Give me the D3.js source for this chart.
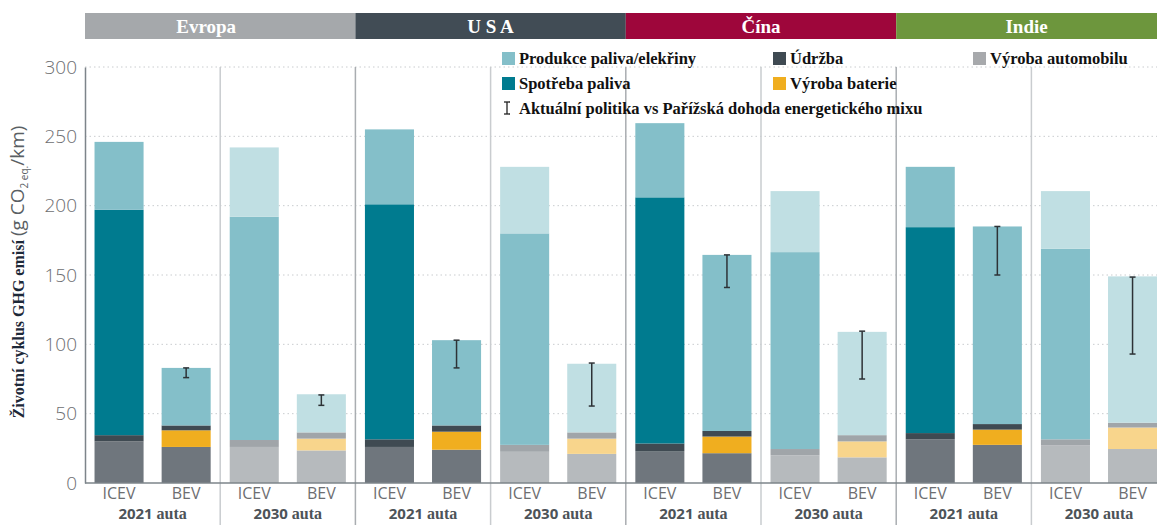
<!DOCTYPE html>
<html><head><meta charset="utf-8">
<script src="https://cdn.jsdelivr.net/npm/d3@7"></script>
<style>body{margin:0;background:#fff}svg{display:block}</style>
</head><body><svg id="c" width="1157" height="525"></svg>
<script>
// ---- data ----
const regions = ["Evropa", "U S A", "Čína", "Indie"];
const years = ["2021 auta", "2030 auta"];
const vehicles = ["ICEV", "BEV"];
const yTicks = [0, 50, 100, 150, 200, 250, 300];
const segmentKeys = ["car", "battery", "maintenance", "fuelUse", "production"];
const legendLabels = ["Produkce paliva/elekřiny", "Údržba", "Výroba automobilu", "Spotřeba paliva", "Výroba baterie"];
const errorLabel = "Aktuální politika vs Pařížská dohoda energetického mixu";
// order of bars: region -> year -> vehicle
const carValues         = [30, 26, 26, 23.5,  26, 24, 22.5, 21,  23, 21.5, 20, 18.5,  31.5, 27.5, 27, 24.5];
const batteryValues     = [0, 12, 0, 8.5,     0, 13, 0, 11,    0, 12, 0, 11.5,      0, 11, 0, 15.5];
const maintenanceValues = [4.5, 3.5, 5, 4.5,  5.5, 4.5, 5, 4.5, 5.5, 4, 4.5, 4.5,  4.5, 4, 4.5, 3.5];
const fuelUseValues     = [162.5, 0, 161, 0,  169.5, 0, 152.5, 0, 177.5, 0, 142, 0, 148.5, 0, 137.5, 0];
const productionValues  = [49, 41.5, 50, 27.5, 54, 61.5, 48, 49.5, 53.5, 127, 44, 74.5, 43.5, 142.5, 41.5, 105.5];
const errorLow          = [null, 76, null, 56, null, 83, null, 55.5, null, 141, null, 75, null, 150, null, 93];
const errorHigh         = [null, 83, null, 63.5, null, 103, null, 86.5, null, 164.5, null, 109.5, null, 185, null, 148.5];

// ---- styles ----
const regionColors = ["#a5a8ab", "#414c55", "#9e063b", "#6d963d"];
const colors2021 = {car: "#6f767d", battery: "#f0ae1f", maintenance: "#3f4a52", fuelUse: "#007b8f", production: "#84bfc9"};
const colors2030 = {car: "#b6babd", battery: "#f8d58c", maintenance: "#a0a5a9", fuelUse: "#84bfc9", production: "#c0dfe3"};
const legendColors = ["#84bfc9", "#3f4a52", "#a7a9ac", "#007b8f", "#f0ae1f"];
const serif = "'Liberation Serif', 'Times New Roman', serif";
const sans = "'Open Sans', Lato, sans-serif";

const svg = d3.select("#c");
const left = 85, groupW = 135.2;
const bars = [];
let i = 0;
regions.forEach((r, ri) => years.forEach((yr, yi) => vehicles.forEach(v => {
  bars.push({region: r, ri, year: yr, yi, vehicle: v, group: r + "|" + yr,
    car: carValues[i], battery: batteryValues[i], maintenance: maintenanceValues[i],
    fuelUse: fuelUseValues[i], production: productionValues[i], lo: errorLow[i], hi: errorHigh[i]});
  i++;
})));
const groups = [];
regions.forEach(r => years.forEach(yr => groups.push(r + "|" + yr)));

const xG = d3.scaleBand().domain(groups).range([left, left + groupW * groups.length]).padding(0);
const xV = d3.scaleBand().domain(vehicles).range([0, xG.bandwidth()]).paddingInner(0.269).paddingOuter(0.142);
const y = d3.scaleLinear().domain([0, 300]).range([483, 67]);

// header bands
const xR = d3.scaleBand().domain(regions).range([left, left + groupW * groups.length]).padding(0);
svg.append("g").selectAll("rect").data(regions).join("rect")
  .attr("x", d => xR(d)).attr("y", 13).attr("width", xR.bandwidth()).attr("height", 26)
  .attr("fill", (d, k) => regionColors[k]);
svg.append("g").selectAll("text").data(regions).join("text")
  .attr("x", d => Math.min(xR(d) + xR.bandwidth() / 2, (xR(d) + 1157) / 2) - (d === "Evropa" ? 14 : 0))
  .attr("y", 33).attr("text-anchor", "middle")
  .attr("fill", "#fff").attr("font-family", serif).attr("font-weight", "bold").attr("font-size", 19)
  .text(d => d);

// gridlines
svg.append("g").selectAll("line").data(yTicks.filter(t => t > 0)).join("line")
  .attr("x1", left).attr("x2", 1157).attr("y1", d => y(d)).attr("y2", d => y(d))
  .attr("stroke", "#c9cccf").attr("stroke-width", 1).attr("stroke-dasharray", "1.5,3");

// dividers
const divs = groups.slice(1).map(g => ({x: xG(g), region: g.endsWith(years[0])}));
svg.append("g").selectAll("line").data(divs).join("line")
  .attr("x1", d => d.x).attr("x2", d => d.x).attr("y1", y(300)).attr("y2", 525)
  .attr("stroke", d => d.region ? "#a9adb1" : "#c9cccf").attr("stroke-width", 1.5);

// bars
const stack = d3.stack().keys(segmentKeys)(bars);
const gBars = svg.append("g");
stack.forEach(layer => {
  const key = layer.key;
  gBars.append("g").selectAll("rect").data(layer).join("rect")
    .attr("x", d => xG(d.data.group) + xV(d.data.vehicle))
    .attr("width", xV.bandwidth())
    .attr("y", d => y(d[1]))
    .attr("height", d => Math.max(0, y(d[0]) - y(d[1])))
    .attr("fill", d => (d.data.yi === 0 ? colors2021 : colors2030)[key]);
});
// error bars
const eb = bars.filter(d => d.lo != null);
const gE = svg.append("g").attr("stroke", "#2d3236").attr("stroke-width", 1.5);
eb.forEach(d => {
  const cx = xG(d.group) + xV(d.vehicle) + xV.bandwidth() / 2;
  gE.append("line").attr("x1", cx).attr("x2", cx).attr("y1", y(d.hi)).attr("y2", y(d.lo));
  gE.append("line").attr("x1", cx - 3).attr("x2", cx + 3).attr("y1", y(d.hi)).attr("y2", y(d.hi));
  gE.append("line").attr("x1", cx - 3).attr("x2", cx + 3).attr("y1", y(d.lo)).attr("y2", y(d.lo));
});

// axes
const yAxis = d3.axisLeft(y).tickValues(yTicks).tickSize(0).tickPadding(8);
const ga = svg.append("g").attr("transform", `translate(${left},0)`).call(yAxis);
ga.select(".domain").attr("stroke", "#7d848a").attr("stroke-width", 1.5);
ga.selectAll("text").attr("font-family", sans).attr("font-size", 19).attr("font-weight", 300).attr("fill", "#6d6e71");
svg.append("line").attr("x1", left).attr("x2", 1157).attr("y1", y(0)).attr("y2", y(0))
  .attr("stroke", "#7d848a").attr("stroke-width", 1.5);

// x labels
svg.append("g").selectAll("text").data(bars).join("text")
  .attr("x", d => xG(d.group) + xV(d.vehicle) + xV.bandwidth() / 2).attr("y", 499)
  .attr("text-anchor", "middle").attr("font-family", sans).attr("font-size", 16)
  .attr("fill", "#6d6e71").text(d => d.vehicle);
const gl = svg.append("g").selectAll("text").data(groups).join("text")
  .attr("x", d => xG(d) + xG.bandwidth() / 2).attr("y", 519).attr("text-anchor", "middle")
  .attr("fill", "#4d5358").attr("font-size", 15).attr("font-weight", "bold");
gl.append("tspan").attr("font-family", sans).text(d => d.split("|")[1].split(" ")[0] + " ");
gl.append("tspan").attr("font-family", serif).attr("font-size", 16).text(d => d.split("|")[1].split(" ")[1]);

// y title
const yt = svg.append("text").attr("transform", "translate(24,272) rotate(-90)").attr("text-anchor", "middle");
yt.append("tspan").attr("font-family", serif).attr("font-weight", "bold").attr("font-size", 16).attr("fill", "#1d2838").text("Životní cyklus GHG emisí ");
yt.append("tspan").attr("font-family", sans).attr("font-size", 19).attr("fill", "#5a5f64").text("(g CO");
yt.append("tspan").attr("font-family", sans).attr("font-size", 10).attr("dy", 4).attr("fill", "#5a5f64").text("2 eq.");
yt.append("tspan").attr("font-family", sans).attr("font-size", 19).attr("dy", -4).attr("fill", "#5a5f64").text("/km)");

// legend
const legPos = [[502, 59], [773, 59], [973, 59], [502, 84]].concat([[773, 84]]);
const lg = svg.append("g");
legendLabels.forEach((lab, k) => {
  const [lx, ly] = legPos[k];
  lg.append("rect").attr("x", lx).attr("y", ly - 7).attr("width", 13).attr("height", 13).attr("fill", legendColors[k]);
  lg.append("text").attr("x", lx + 17).attr("y", ly + 5).attr("font-family", serif).attr("font-weight", "bold")
    .attr("font-size", 16.5).attr("fill", "#111").text(lab);
});
const ig = lg.append("g").attr("stroke", "#222").attr("stroke-width", 1.3);
ig.append("line").attr("x1", 507).attr("x2", 507).attr("y1", 102).attr("y2", 114);
ig.append("line").attr("x1", 504).attr("x2", 510).attr("y1", 102).attr("y2", 102);
ig.append("line").attr("x1", 504).attr("x2", 510).attr("y1", 114).attr("y2", 114);
lg.append("text").attr("x", 519).attr("y", 114).attr("font-family", serif).attr("font-weight", "bold")
  .attr("font-size", 16.5).attr("fill", "#111").text(errorLabel);
</script></body></html>
